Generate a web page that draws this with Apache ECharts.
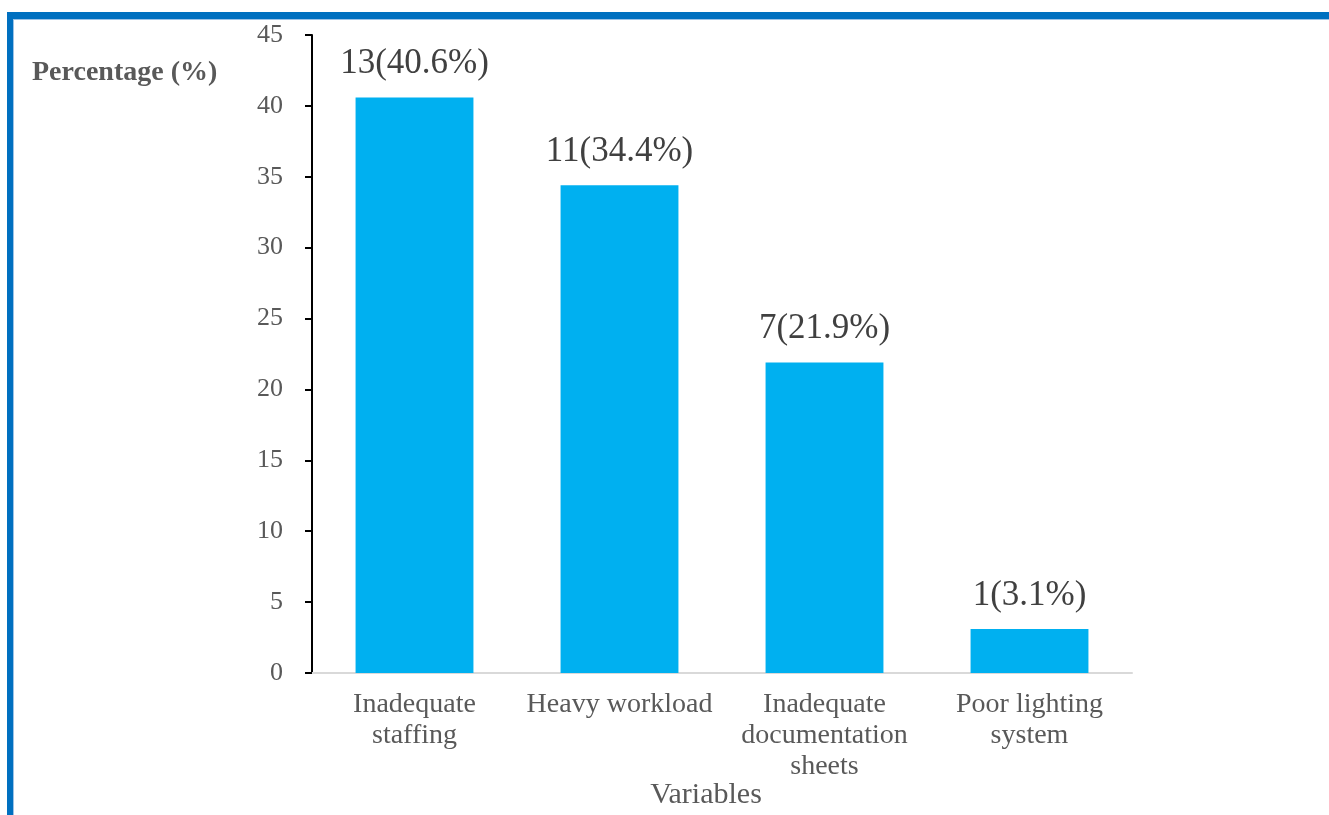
<!DOCTYPE html>
<html>
<head>
<meta charset="utf-8">
<script src="https://cdn.jsdelivr.net/npm/echarts@6/dist/echarts.min.js"></script>
<style>
  html, body { margin: 0; padding: 0; background: #fff; }
  #chart { position: absolute; left: 0; top: 0; width: 1329px; height: 815px; }
  /* blue frame round the figure */
  #frame {
    position: absolute; left: 7px; top: 12px; width: 1340px; height: 820px;
    border-top: 7px solid #0070C0; border-left: 6px solid #0070C0;
    box-shadow: inset 1px 1px 0 #9DC3E6; pointer-events: none;
  }
</style>
</head>
<body>
<div id="chart"></div>
<div id="frame"></div>
<script>
// data
const categories = ['Inadequate\nstaffing', 'Heavy workload', 'Inadequate\ndocumentation\nsheets', 'Poor lighting\nsystem'];
const counts = [13, 11, 7, 1];
const percents = [40.6, 34.4, 21.9, 3.1];
const yTicks = [0, 5, 10, 15, 20, 25, 30, 35, 40, 45];

const serif = '"Liberation Serif", "Times New Roman", serif';

let myChart = echarts.init(document.getElementById('chart'));

let option = {
  animation: false,
  title: [
    {
      text: 'Percentage (%)',
      left: 27, top: 54,
      textStyle: { fontFamily: serif, fontSize: 28, fontWeight: 'bold', color: '#595959' },
    },
    {
      text: 'Variables',
      left: 701, top: 775, textAlign: 'center',
      textStyle: { fontFamily: serif, fontSize: 30, fontWeight: 'normal', color: '#595959' },
    },
  ],
  grid: { left: 312, top: 35, right: 197, bottom: 142, containLabel: false },
  xAxis: {
    type: 'category',
    data: categories,
    axisLine: { lineStyle: { color: '#D9D9D9', width: 2 } },
    axisTick: { show: false },
    axisLabel: {
      margin: 16, interval: 0,
      fontFamily: serif, fontSize: 28, lineHeight: 31, color: '#595959',
    },
  },
  yAxis: {
    type: 'value',
    min: yTicks[0], max: yTicks[yTicks.length - 1], interval: 5,
    splitLine: { show: false },
    axisLine: { show: true, lineStyle: { color: '#000', width: 2 } },
    axisTick: { show: true, length: 7, lineStyle: { color: '#000', width: 2 } },
    axisLabel: { margin: 29, fontFamily: serif, fontSize: 26, color: '#595959' },
  },
  series: [
    {
      type: 'bar',
      data: percents,
      barWidth: '57.5%',
      itemStyle: { color: '#00B0F0' },
      label: {
        show: true, position: 'top', distance: 16,
        fontFamily: serif, fontSize: 35, color: '#404040',
        formatter: function (p) {
          return counts[p.dataIndex] + '(' + p.value.toFixed(1) + '%)';
        },
      },
    },
  ],
};

myChart.setOption(option);
</script>
</body>
</html>
